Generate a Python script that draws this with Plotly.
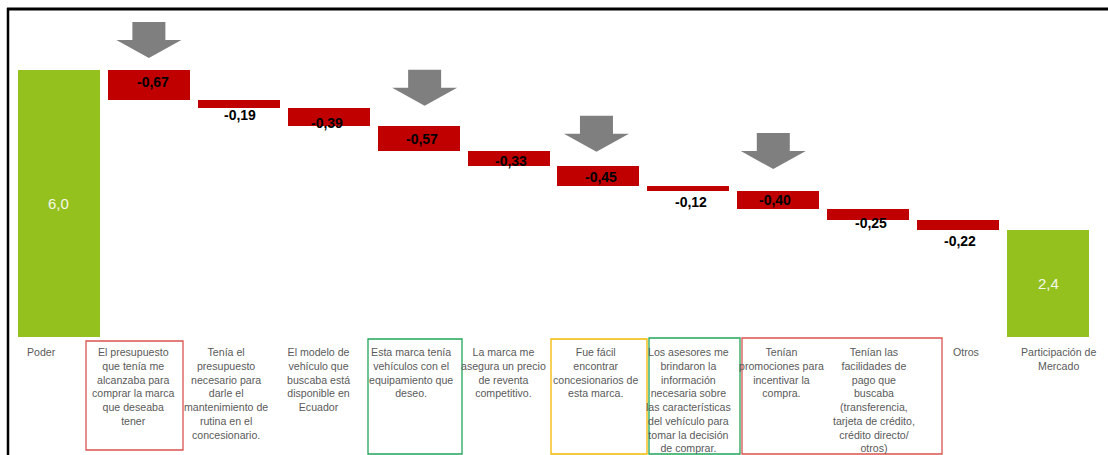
import plotly.graph_objects as go

# ---- data -------------------------------------------------------------
categories = [
    "Poder",
    "El presupuesto<br>que tenía me<br>alcanzaba para<br>comprar la marca<br>que deseaba<br>tener",
    "Tenía el<br>presupuesto<br>necesario para<br>darle el<br>mantenimiento de<br>rutina en el<br>concesionario.",
    "El modelo de<br>vehículo que<br>buscaba está<br>disponible en<br>Ecuador",
    "Esta marca tenía<br>vehículos con el<br>equipamiento que<br>deseo.",
    "La marca me<br>asegura un precio<br>de reventa<br>competitivo.",
    "Fue fácil<br>encontrar<br>concesionarios de<br>esta marca.",
    "Los asesores me<br>brindaron la<br>información<br>necesaria sobre<br>las características<br>del vehículo para<br>tomar la decisión<br>de comprar.",
    "Tenían<br>promociones para<br>incentivar la<br>compra.",
    "Tenían las<br>facilidades de<br>pago que<br>buscaba<br>(transferencia,<br>tarjeta de crédito,<br>crédito directo/<br>otros)",
    "Otros",
    "Participación de<br>Mercado",
]
start_value = 6.0
drivers = [-0.67, -0.19, -0.39, -0.57, -0.33, -0.45, -0.12, -0.40, -0.25, -0.22]
final_value = 2.4

# ---- styling ----------------------------------------------------------
GREEN = "#95C11F"
RED = "#C00000"
ARROW = "#7F7F7F"
LABEL_GRAY = "#5A5A5A"
FONT = "Liberation Sans, Arial, sans-serif"

W, H = 1108, 455
ML, MR, MT, MB = 14, 15, 10, 0
N = len(categories)
slot_px = (W - ML - MR) / N          # horizontal pixels per category
zero_px = 337                         # vertical pixel of the baseline
unit_px = 44.5                        # pixels per value unit
y_top = (zero_px - MT) / unit_px
y_bot = -(H - MB - zero_px) / unit_px


def px2x(px):
    return (px - ML) / slot_px - 0.5


def px2y(py):
    return (zero_px - py) / unit_px


# floating bar geometry from the running total
bases, heights, colors = [0.0], [start_value], [GREEN]
running = start_value
for d in drivers:
    running += d
    bases.append(running)
    heights.append(-d)
    colors.append(RED)
bases.append(0.0)
heights.append(final_value)
colors.append(GREEN)

xs = list(range(N))

fig = go.Figure(
    go.Bar(
        x=xs,
        y=heights,
        base=bases,
        width=0.912,
        marker=dict(color=colors, line=dict(width=0)),
        hoverinfo="skip",
    )
)


def fmt(v, nd):
    return f"{v:.{nd}f}".replace(".", ",")


annotations = []

# totals: value printed inside the green bars
for i, v in [(0, start_value), (N - 1, final_value)]:
    annotations.append(dict(
        x=i, y=v / 2, text=fmt(v, 1), showarrow=False,
        font=dict(family=FONT, size=15, color="#F4F8EA"),
        xanchor="center", yanchor="middle",
    ))

# driver labels: vertical offset (px, up positive) from each bar's lower edge
driver_label_shift = [17.5, -7, 3, 11.5, 4.5, 9, -11, 9, -3, -11.5]
driver_label_dx = [4, 1, -2, 3.5, 2.5, 2.5, 2.5, -3, 2.5, 2]
for k, d in enumerate(drivers):
    i = k + 1
    annotations.append(dict(
        x=i, y=bases[i], text="<b>" + fmt(d, 2) + "</b>", showarrow=False,
        font=dict(family=FONT, size=14, color="#000000"),
        xanchor="center", yanchor="middle",
        xshift=driver_label_dx[k], yshift=driver_label_shift[k],
    ))

# category captions under the baseline
label_px = [41 + 92.5 * i for i in range(N)]
for i, txt in enumerate(categories):
    annotations.append(dict(
        x=px2x(label_px[i]), y=0, text=txt, showarrow=False,
        font=dict(family=FONT, size=10.6, color=LABEL_GRAY),
        xanchor="center", yanchor="top", align="center",
        yshift=-7,
    ))

shapes = []

# highlight boxes around captions: (first, last, colour, left px, right px, top px, bottom px)
caption_boxes = [
    (1, 1, "#D9534F", 47.5, 49.5, 341, 450),
    (4, 4, "#22A55A", 43, 51, 339, 454),
    (6, 6, "#F5B800", 45, 51, 339, 454),
    (7, 7, "#22A55A", 39.5, 51.5, 338, 454),
    (8, 9, "#D9534F", 39, 68.5, 338, 454),
]
for a, b, col, lp, rp, tp, bp in caption_boxes:
    shapes.append(dict(
        type="rect", xref="x", yref="y",
        x0=px2x(label_px[a] - lp), x1=px2x(label_px[b] + rp),
        y0=px2y(tp), y1=px2y(bp),
        line=dict(color=col, width=1.3), fillcolor="rgba(0,0,0,0)",
        layer="above",
    ))

# grey block arrows above selected bars: (bar index, x offset px, gap above bar px)
arrows = [(1, 0, 12), (4, 6, 20), (6, -2, 14), (8, -5, 22)]
for i, dx, gap in arrows:
    top = bases[i] + heights[i]
    g = gap
    path = (
        f"M {dx} {g} L {dx - 32.5} {g + 18} L {dx - 16.5} {g + 18} "
        f"L {dx - 16.5} {g + 36} L {dx + 16.5} {g + 36} L {dx + 16.5} {g + 18} "
        f"L {dx + 32.5} {g + 18} Z"
    )
    shapes.append(dict(
        type="path", xref="x", yref="y",
        xsizemode="pixel", ysizemode="pixel",
        xanchor=i, yanchor=top, path=path,
        fillcolor=ARROW, line=dict(width=0),
    ))

# black frame along the top and left edges
shapes.append(dict(
    type="line", xref="paper", yref="paper",
    x0=(7 - ML) / (W - ML - MR), x1=(W - ML) / (W - ML - MR),
    y0=(H - MB - 9) / (H - MT - MB), y1=(H - MB - 9) / (H - MT - MB),
    line=dict(color="#000000", width=3),
))
shapes.append(dict(
    type="line", xref="paper", yref="paper",
    x0=(8 - ML) / (W - ML - MR), x1=(8 - ML) / (W - ML - MR),
    y0=-0.01, y1=(H - MB - 8) / (H - MT - MB),
    line=dict(color="#000000", width=2.5),
))

fig.update_layout(
    width=W, height=H,
    margin=dict(l=ML, r=MR, t=MT, b=MB, pad=0),
    paper_bgcolor="#FFFFFF", plot_bgcolor="#FFFFFF",
    showlegend=False,
    xaxis=dict(range=[-0.5, N - 0.5], visible=False, fixedrange=True),
    yaxis=dict(range=[y_bot, y_top], visible=False, fixedrange=True),
    annotations=annotations,
    shapes=shapes,
    bargap=0,
)

fig.write_html("out.html", config={"displayModeBar": False})
